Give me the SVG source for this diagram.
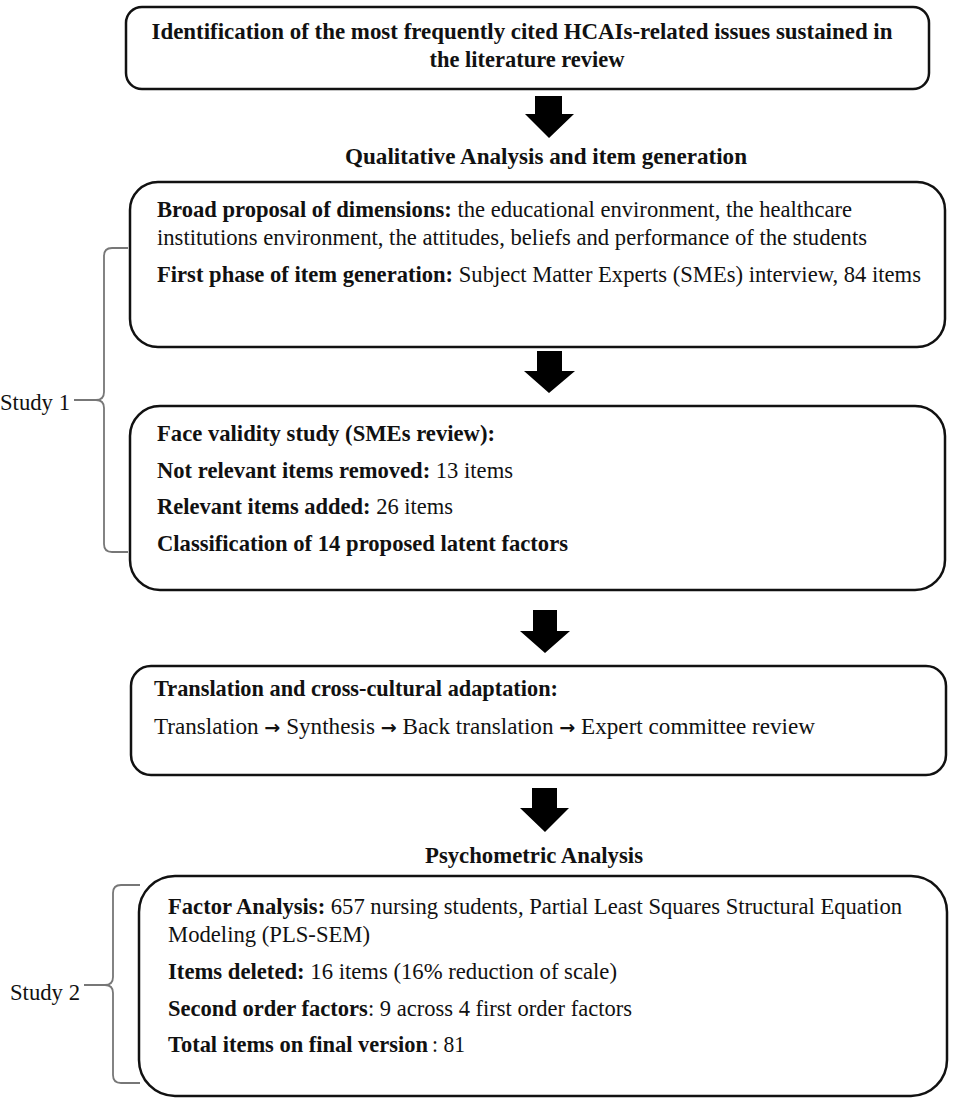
<svg xmlns="http://www.w3.org/2000/svg" width="957" height="1101" viewBox="0 0 957 1101">
<style>
.box{fill:#fff;stroke:#111;stroke-width:2.5}
.t{font-family:"Liberation Serif","Times New Roman",serif;font-size:23px;fill:#111}
.b{font-weight:bold}
.ar{font-family:"DejaVu Sans",sans-serif;font-weight:bold;font-size:19px}
.arr{fill:#000}
.brace{fill:none;stroke:#777;stroke-width:1.8}
</style>
<rect width="957" height="1101" fill="#fff"/>
<g id="n1">
<rect class="box" x="126" y="7" width="803" height="82" rx="16"/>
<text class="t b" x="522" y="39" text-anchor="middle" textLength="741" lengthAdjust="spacingAndGlyphs">Identification of the most frequently cited HCAIs-related issues sustained in</text>
<text class="t b" x="527" y="67" text-anchor="middle" textLength="195" lengthAdjust="spacingAndGlyphs">the literature review</text>
</g>
<g id="label-qual">
<text class="t b" x="546" y="164" text-anchor="middle" textLength="402" lengthAdjust="spacingAndGlyphs">Qualitative Analysis and item generation</text>
</g>
<g id="n2">
<rect class="box" x="130" y="182" width="815" height="165" rx="28"/>
<text class="t" x="157" y="217" textLength="695" lengthAdjust="spacingAndGlyphs"><tspan class="b">Broad proposal of dimensions:</tspan> the educational environment, the healthcare</text>
<text class="t" x="157" y="245" textLength="710" lengthAdjust="spacingAndGlyphs">institutions environment, the attitudes, beliefs and performance of the students</text>
<text class="t" x="157" y="282" textLength="764" lengthAdjust="spacingAndGlyphs"><tspan class="b">First phase of item generation:</tspan> Subject Matter Experts (SMEs) interview, 84 items</text>
</g>
<g id="n3">
<rect class="box" x="130" y="406" width="815" height="184" rx="30"/>
<text class="t b" x="157" y="441" textLength="338" lengthAdjust="spacingAndGlyphs">Face validity study (SMEs review):</text>
<text class="t" x="157" y="478" textLength="356" lengthAdjust="spacingAndGlyphs"><tspan class="b">Not relevant items removed:</tspan> 13 items</text>
<text class="t" x="157" y="514" textLength="296" lengthAdjust="spacingAndGlyphs"><tspan class="b">Relevant items added:</tspan> 26 items</text>
<text class="t b" x="157" y="551" textLength="411" lengthAdjust="spacingAndGlyphs">Classification of 14 proposed latent factors</text>
</g>
<g id="n4">
<rect class="box" x="131" y="666" width="815" height="109" rx="20"/>
<text class="t b" x="154" y="696" textLength="404" lengthAdjust="spacingAndGlyphs">Translation and cross-cultural adaptation:</text>
<text class="t" x="154" y="734" textLength="661" lengthAdjust="spacingAndGlyphs">Translation <tspan class="ar">→</tspan> Synthesis <tspan class="ar">→</tspan> Back translation <tspan class="ar">→</tspan> Expert committee review</text>
</g>
<g id="label-psy">
<text class="t b" x="534" y="863" text-anchor="middle" textLength="218" lengthAdjust="spacingAndGlyphs">Psychometric Analysis</text>
</g>
<g id="n5">
<rect class="box" x="139" y="876" width="808" height="220" rx="36"/>
<text class="t" x="168" y="914" textLength="734" lengthAdjust="spacingAndGlyphs"><tspan class="b">Factor Analysis:</tspan> 657 nursing students, Partial Least Squares Structural Equation</text>
<text class="t" x="168" y="942" textLength="202" lengthAdjust="spacingAndGlyphs">Modeling (PLS-SEM)</text>
<text class="t" x="168" y="979" textLength="449" lengthAdjust="spacingAndGlyphs"><tspan class="b">Items deleted:</tspan> 16 items (16% reduction of scale)</text>
<text class="t" x="168" y="1016" textLength="464" lengthAdjust="spacingAndGlyphs"><tspan class="b">Second order factors</tspan>: 9 across 4 first order factors</text>
<text class="t b" x="168" y="1052" textLength="260" lengthAdjust="spacingAndGlyphs">Total items on final version</text>
<text class="t" x="432" y="1052" textLength="33" lengthAdjust="spacingAndGlyphs">: 81</text>
</g>
<g id="study1">
<text class="t" x="0" y="410" textLength="70" lengthAdjust="spacingAndGlyphs">Study 1</text>
</g>
<g id="study2">
<text class="t" x="10" y="1000" textLength="70" lengthAdjust="spacingAndGlyphs">Study 2</text>
</g>
<g id="connectors">
<polygon class="arr" points="535,96 562,96 562,114 574,114 549,138 525,114 535,114"/>
<polygon class="arr" points="537,351 562,351 562,371 575,371 549,393 524,371 537,371"/>
<polygon class="arr" points="533,610 557,610 557,631 570,631 545,653 520,631 533,631"/>
<polygon class="arr" points="532,788 557,788 557,808 569,808 545,832 520,808 532,808"/>
<path class="brace" d="M128,248 L112,248 Q104,248 104,256 L104,392 Q104,400 96,400 L74,400 M96,400 Q104,400 104,408 L104,544 Q104,552 112,552 L128,552"/>
<path class="brace" d="M140,885 L121,885 Q113,885 113,893 L113,977 Q113,985 105,985 L84,985 M105,985 Q113,985 113,993 L113,1075 Q113,1083 121,1083 L140,1083"/>
</g>
</svg>
